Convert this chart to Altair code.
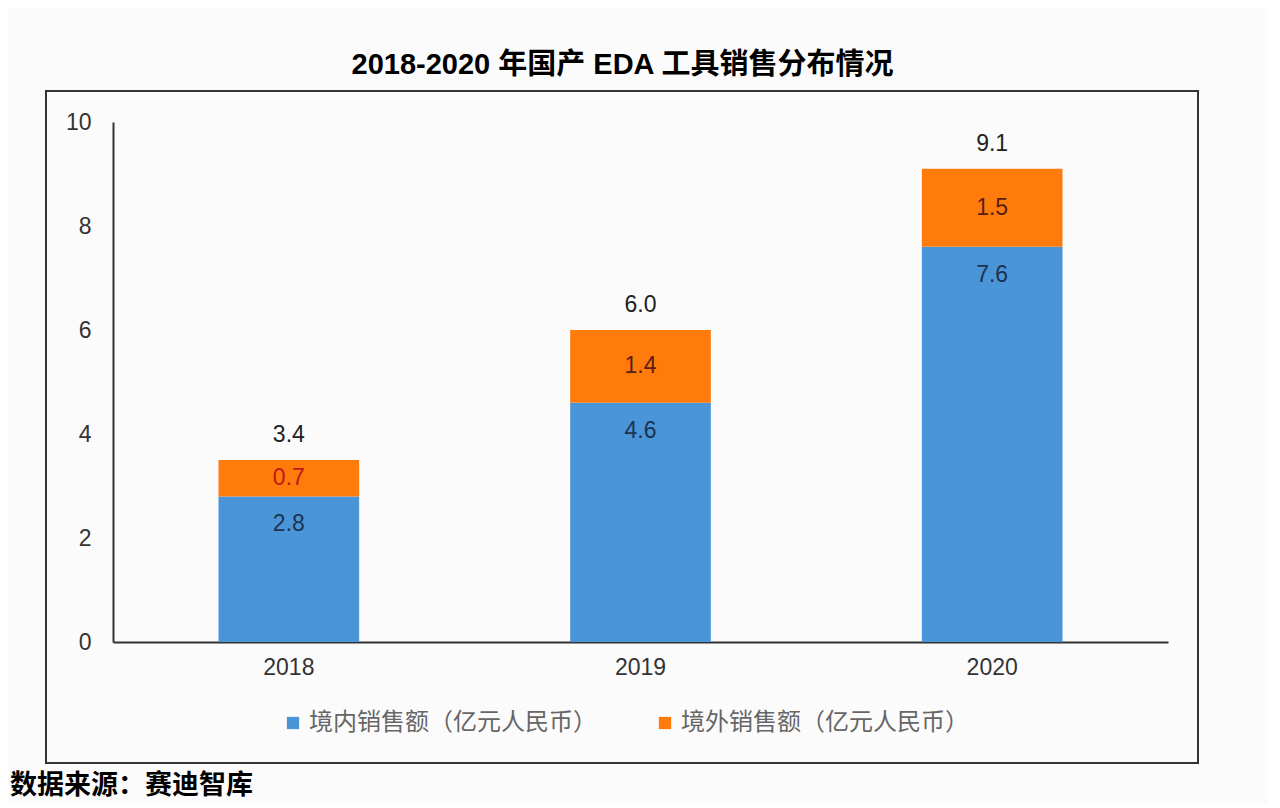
import altair as alt
import pandas as pd

years = ["2018", "2019", "2020"]
domestic = [2.8, 4.6, 7.6]
overseas = [0.7, 1.4, 1.5]
total_labels = ["3.4", "6.0", "9.1"]
series_names = ["境内销售额（亿元人民币）", "境外销售额（亿元人民币）"]
colors = ["#4a95d8", "#ff7b0c"]
y_ticks = [0, 2, 4, 6, 8, 10]
title_text = "2018-2020 年国产 EDA 工具销售分布情况"
source_text = ["数据来源：赛迪智库"]

FONT = "Liberation Sans, Arial, Noto Sans CJK SC, sans-serif"

long_df = pd.DataFrame({
    "year": years * 2,
    "series": [series_names[0]] * 3 + [series_names[1]] * 3,
    "value": domestic + overseas,
    "order": [0] * 3 + [1] * 3,
})
wide_df = pd.DataFrame({
    "year": years,
    "domestic": domestic,
    "overseas": overseas,
    "total_label": total_labels,
})
src_df = pd.DataFrame({"t": source_text})

x_enc = alt.X(
    "year:N",
    title=None,
    scale=alt.Scale(paddingInner=0.6, paddingOuter=0.3),
    axis=alt.Axis(labelAngle=0, ticks=False, labelPadding=14, labelFontSize=23,
                  labelColor="#333333", labelFont=FONT, domainColor="#333333",
                  domainWidth=2, grid=False),
)
y_scale = alt.Scale(domain=[0, 10])

bars = alt.Chart(long_df).mark_bar().encode(
    x=x_enc,
    y=alt.Y("value:Q", stack="zero", scale=y_scale, title=None,
            axis=alt.Axis(values=y_ticks, ticks=False, labelPadding=22, labelFontSize=23,
                          labelColor="#333333", labelFont=FONT, domainColor="#333333",
                          domainWidth=2, grid=False)),
    color=alt.Color("series:N", scale=alt.Scale(domain=series_names, range=colors),
                    legend=alt.Legend(title=None, orient="none", legendX=168, legendY=589,
                                      direction="horizontal", columns=2, columnPadding=56,
                                      symbolType="square", symbolSize=150, symbolStrokeWidth=0,
                                      labelFontSize=24, labelColor="#666666", labelFont=FONT,
                                      labelOffset=4, labelLimit=400)),
    order=alt.Order("order:Q"),
)

base = alt.Chart(wide_df).encode(x=alt.X("year:N"))

dom_labels = base.mark_text(fontSize=23, font=FONT, color="#1c3350", dy=28).encode(
    y=alt.Y("domestic:Q", scale=y_scale),
    text=alt.Text("domestic:Q", format=".1f"),
)

ovs_labels = base.transform_calculate(
    mid="datum.domestic + datum.overseas / 2"
).mark_text(fontSize=23, font=FONT).encode(
    y=alt.Y("mid:Q", scale=y_scale),
    text=alt.Text("overseas:Q", format=".1f"),
    color=alt.condition(alt.datum.year == "2018", alt.value("#c01818"), alt.value("#5a1e12")),
)

tot_labels = base.transform_calculate(
    tot="datum.domestic + datum.overseas"
).mark_text(fontSize=23, font=FONT, color="#222222", dy=-25).encode(
    y=alt.Y("tot:Q", scale=y_scale),
    text=alt.Text("total_label:N"),
)

frame = alt.Chart(src_df).mark_rect(fill=None, stroke="#333333", strokeWidth=2).encode(
    x=alt.value(-67), x2=alt.value(1085), y=alt.value(-31), y2=alt.value(641),
)

source = alt.Chart(src_df).mark_text(fontSize=27, fontWeight="bold", font=FONT,
                                     align="left", baseline="middle", color="#000000").encode(
    x=alt.value(-103), y=alt.value(664), text=alt.Text("t:N"),
)

chart = alt.layer(frame, bars, dom_labels, ovs_labels, tot_labels, source).properties(
    width=1055,
    height=520,
    title=alt.TitleParams(title_text, fontSize=29, fontWeight="bold", font=FONT,
                          color="#000000", anchor="middle", frame="group", dx=-18, offset=10),
    padding={"left": 105, "top": 114, "right": 100, "bottom": 162},
    autosize=alt.AutoSizeParams(type="none"),
    background="#fcfbfc",
).configure_view(stroke=None)

chart.save("out.html", embed_options={"renderer": "svg", "actions": False})
